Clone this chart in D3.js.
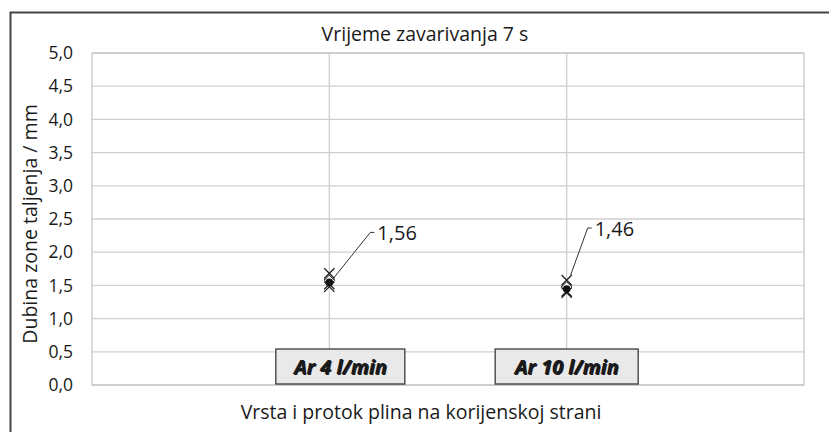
<!DOCTYPE html>
<html>
<head>
<meta charset="utf-8">
<script src="https://cdn.jsdelivr.net/npm/d3@7"></script>
<style>
  html, body { margin: 0; padding: 0; background: #fff; }
  svg { display: block; }
  text { font-family: "Open Sans", "Noto Sans", sans-serif; fill: #1a1a1a; }
</style>
</head>
<body>
<svg id="chart" width="829" height="432"></svg>
<script>
// Gas type / flow rate groups, placed at x = 1 and x = 2 on a 0..3 axis
const categories = ["Ar 4 l/min", "Ar 10 l/min"];
const categoryX = [1, 2];
// Individual measurements of fusion zone depth (mm)
const measurements = [
  [1.68, 1.52, 1.48],
  [1.58, 1.41, 1.39]
];
// Mean values shown by the callouts
const means = [1.56, 1.46];
const meanLabels = ["1,56", "1,46"];
const yTicks = [0, 0.5, 1, 1.5, 2, 2.5, 3, 3.5, 4, 4.5, 5];

const svg = d3.select("#chart");
const W = 829, H = 432;
const plot = { left: 92, right: 804, top: 53, bottom: 385 };

const x = d3.scaleLinear().domain([0, 3]).range([plot.left, plot.right]);
const y = d3.scaleLinear().domain([0, 5]).range([plot.bottom, plot.top]);
const fmt = v => d3.format(".1f")(v).replace(".", ",");

// Outer chart frame (runs off the right and bottom edges)
svg.append("rect")
  .attr("x", 10.5).attr("y", 12.5)
  .attr("width", W + 20).attr("height", H + 20)
  .attr("fill", "none").attr("stroke", "#444").attr("stroke-width", 2);

// Horizontal gridlines
svg.append("g").selectAll("line").data(yTicks).join("line")
  .attr("x1", plot.left).attr("x2", plot.right)
  .attr("y1", d => y(d)).attr("y2", d => y(d))
  .attr("stroke", "#cfcfcf").attr("stroke-width", 1.3);

// Vertical gridlines at the categories
svg.append("g").selectAll("line").data(categoryX).join("line")
  .attr("x1", d => x(d)).attr("x2", d => x(d))
  .attr("y1", plot.top).attr("y2", plot.bottom)
  .attr("stroke", "#cfcfcf").attr("stroke-width", 1.3);

// Plot area border
svg.append("rect")
  .attr("x", plot.left).attr("y", plot.top)
  .attr("width", plot.right - plot.left).attr("height", plot.bottom - plot.top)
  .attr("fill", "none").attr("stroke", "#c8c8c8").attr("stroke-width", 1.3);

// Y axis tick labels
const yAxis = d3.axisLeft(y).tickValues(yTicks).tickFormat(fmt).tickSize(0).tickPadding(19);
const gy = svg.append("g").attr("transform", `translate(${plot.left},0)`).call(yAxis);
gy.select(".domain").remove();
gy.selectAll("text").attr("font-size", 17.5).attr("fill", "#1a1a1a")
  .attr("font-family", "'Open Sans', sans-serif");

// Titles
svg.append("text").attr("x", 425).attr("y", 41).attr("text-anchor", "middle")
  .attr("font-size", 19.5).text("Vrijeme zavarivanja 7 s");
svg.append("text").attr("x", 421).attr("y", 419).attr("text-anchor", "middle")
  .attr("font-size", 19.5).text("Vrsta i protok plina na korijenskoj strani");
svg.append("text")
  .attr("transform", `translate(37,${(plot.top + plot.bottom) / 2 + 5}) rotate(-90)`)
  .attr("text-anchor", "middle").attr("font-size", 19.5)
  .text("Dubina zone taljenja / mm");

// Category label boxes sitting on the x axis
const boxW = [129, 143];
const boxOffset = [11, 0];
categories.forEach((c, i) => {
  const cx = x(categoryX[i]) + boxOffset[i];
  const g = svg.append("g");
  g.append("rect")
    .attr("x", cx - boxW[i] / 2).attr("y", plot.bottom - 36)
    .attr("width", boxW[i]).attr("height", 35)
    .attr("fill", "#e9e9e9").attr("stroke", "#3a3a3a").attr("stroke-width", 1.3);
  g.append("text").attr("x", cx + 1).attr("y", plot.bottom - 10)
    .attr("text-anchor", "middle").attr("font-size", 20)
    .attr("font-weight", "bold").attr("font-style", "italic")
    .attr("fill", "#fff").text(c);
  g.append("text").attr("x", cx).attr("y", plot.bottom - 11)
    .attr("text-anchor", "middle").attr("font-size", 20)
    .attr("font-weight", "bold").attr("font-style", "italic")
    .attr("fill", "#111").text(c);
});

// Measurement markers (crosses)
const cross = d3.symbol().type(d3.symbolX).size(70);
measurements.forEach((vals, i) => {
  svg.append("g").selectAll("path").data(vals).join("path")
    .attr("d", cross)
    .attr("transform", d => `translate(${x(categoryX[i])},${y(d)})`)
    .attr("fill", "none").attr("stroke", "#222").attr("stroke-width", 1.3);
});

// Mean markers: open diamond with filled dot
means.forEach((m, i) => {
  const px = x(categoryX[i]), py = y(m);
  svg.append("path")
    .attr("d", d3.symbol().type(d3.symbolDiamond2).size(70)())
    .attr("transform", `translate(${px},${py - 1})`)
    .attr("fill", "#fff").attr("stroke", "#222").attr("stroke-width", 1);
  svg.append("circle").attr("cx", px).attr("cy", py + 1).attr("r", 3.8).attr("fill", "#111");
});

// Callout leaders and mean value labels
const leadStartDx = [4, 4], leadStartDy = [-3, -13];
const leadDx = [37, 17], leadDy = [-46, -47];
means.forEach((m, i) => {
  const px = x(categoryX[i]) + leadStartDx[i], py = y(m) + leadStartDy[i];
  const ex = px + leadDx[i], ey = py + leadDy[i];
  svg.append("path")
    .attr("d", `M${px},${py}L${ex},${ey}H${ex + 4}`)
    .attr("fill", "none").attr("stroke", "#333").attr("stroke-width", 1);
  svg.append("text").attr("x", ex + 7).attr("y", ey + 8)
    .attr("font-size", 20).text(meanLabels[i]);
});
</script>
</body>
</html>
